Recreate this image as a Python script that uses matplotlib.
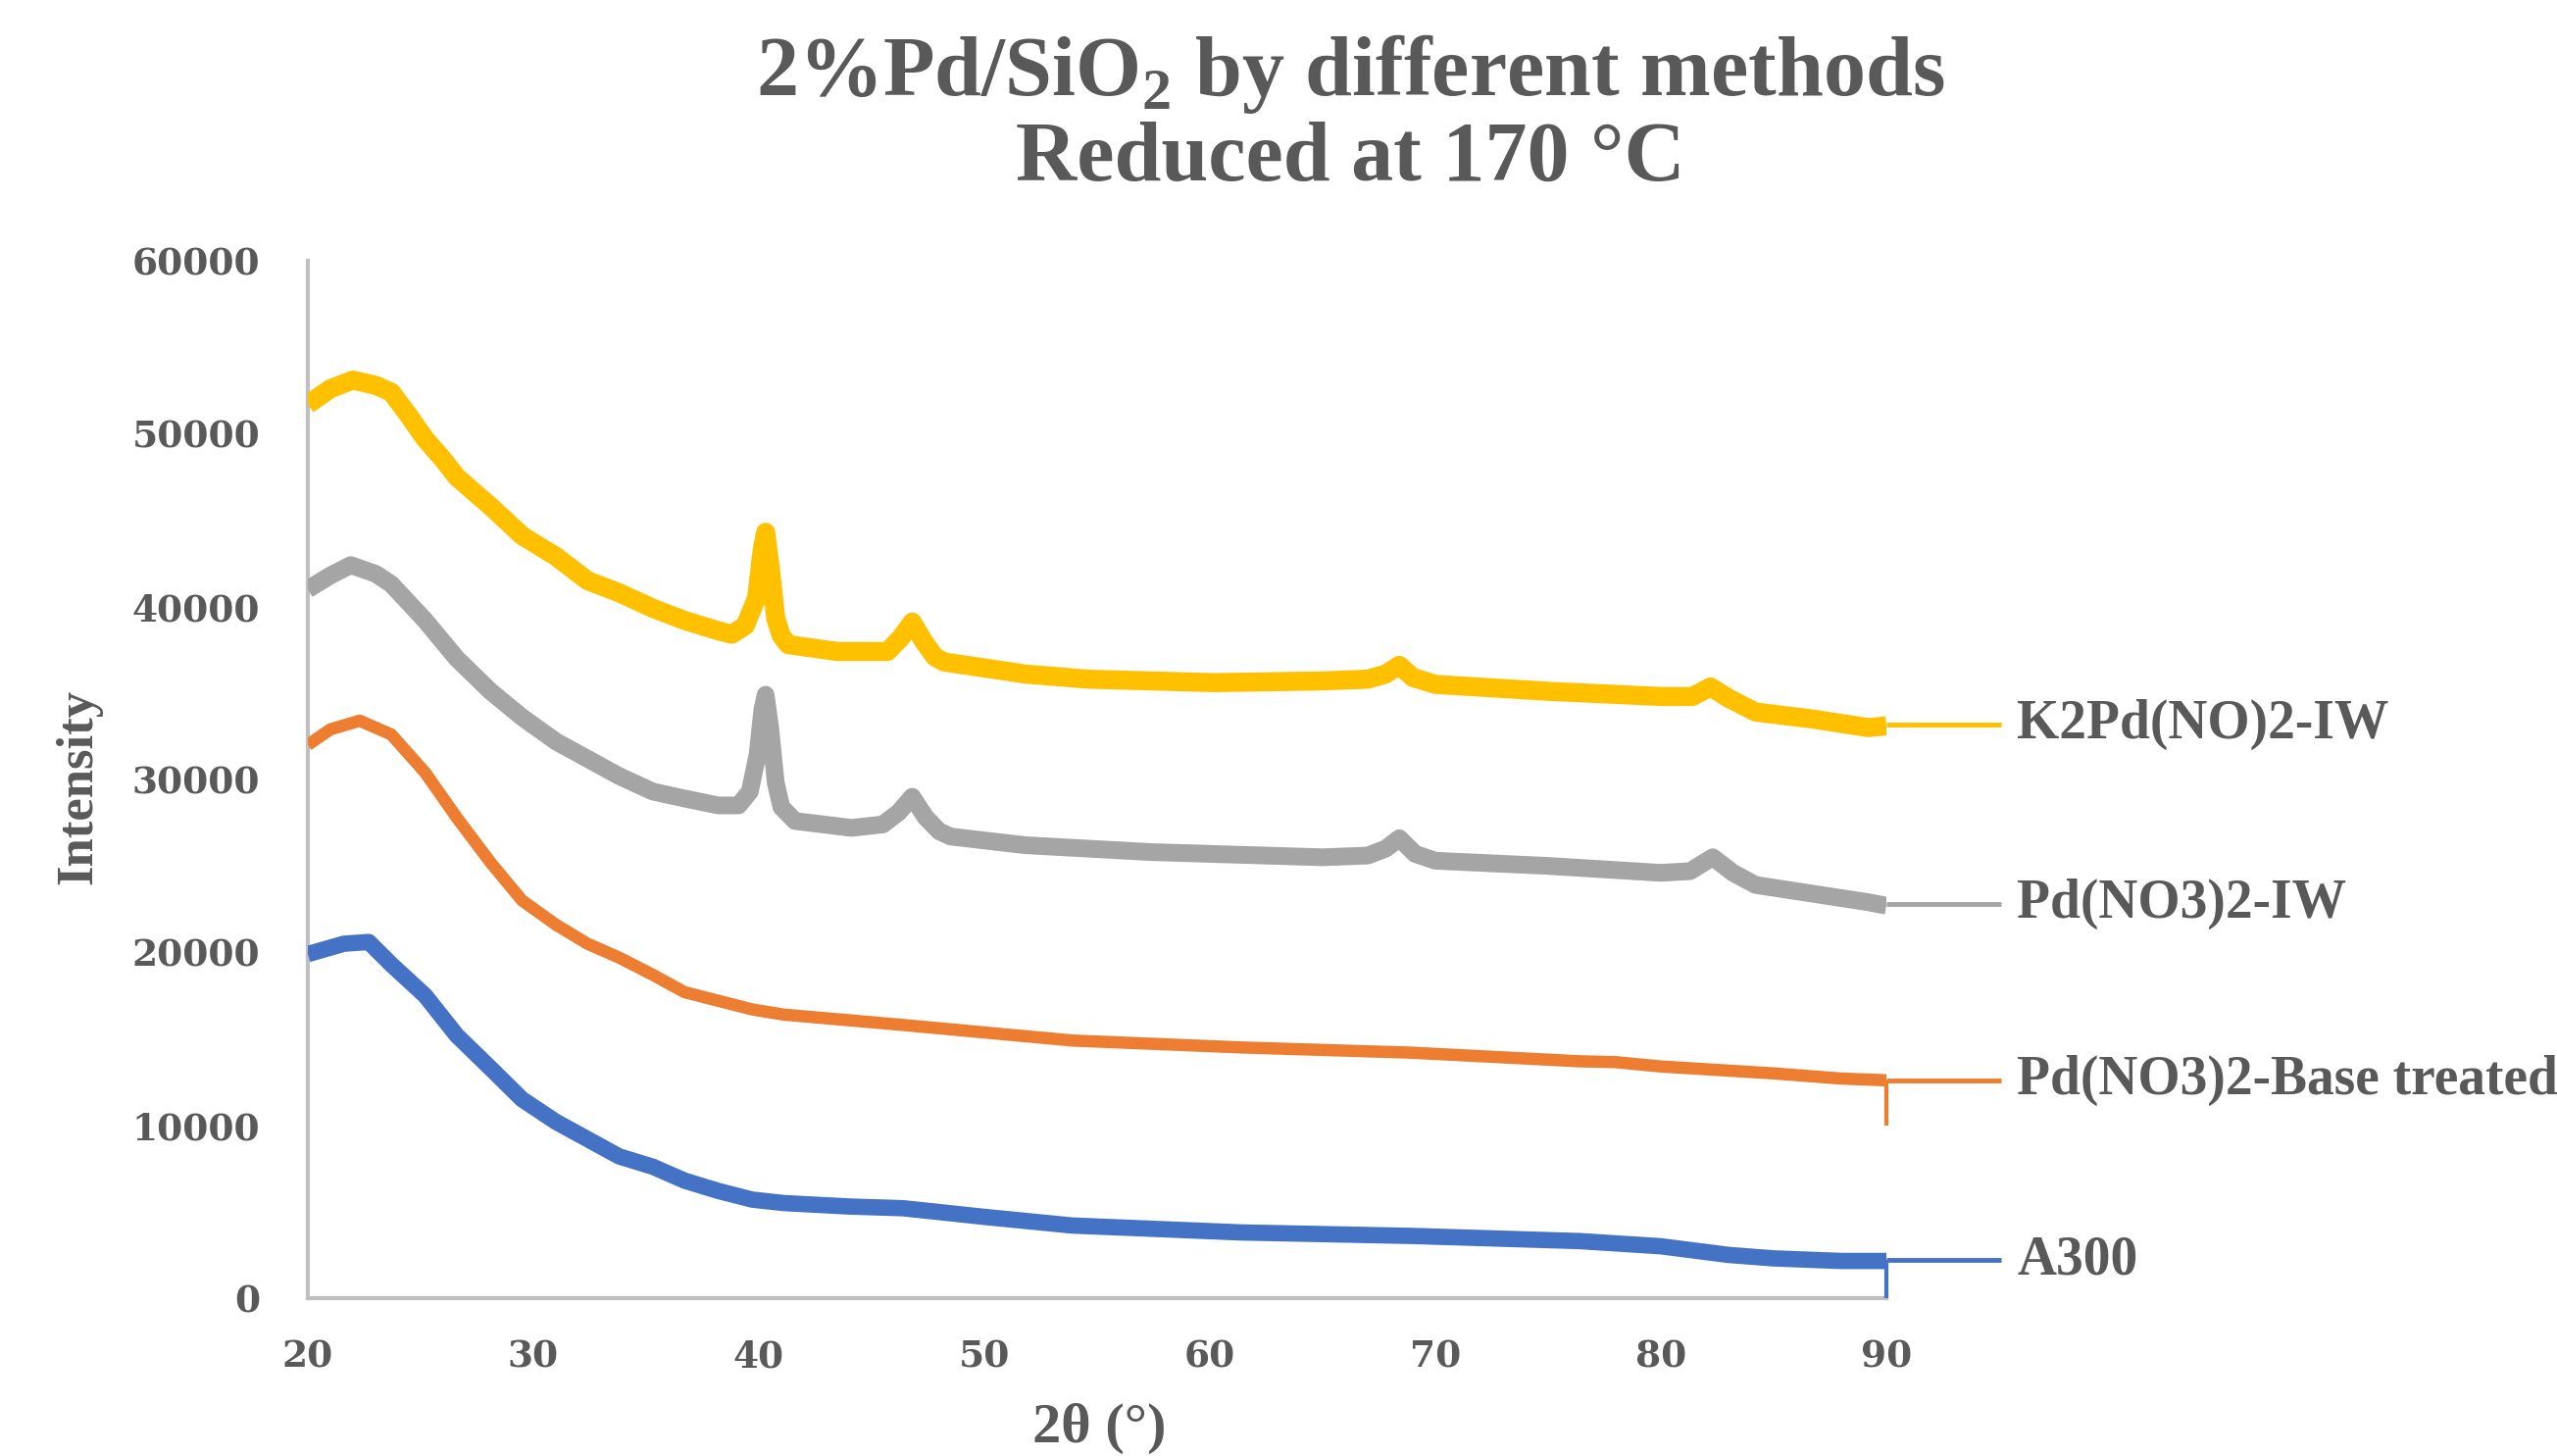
import matplotlib
matplotlib.use("Agg")
import matplotlib.pyplot as plt

# ---------------- data ----------------
series_names = ["K2Pd(NO)2-IW", "Pd(NO3)2-IW", "Pd(NO3)2-Base treated", "A300"]
series_colors = ["#FFC000", "#A5A5A5", "#ED7D31", "#4472C4"]

k2pd_x = [20, 21, 22, 23, 23.7, 24.5, 25.2, 26, 26.6, 27.3, 28.1, 29.5, 31, 32.4, 33.8, 35.3, 36.7, 38.2, 38.8,
          39.4, 39.9, 40.15, 40.3, 40.5, 40.75, 41.0, 41.3, 43.5, 45.7, 46.3, 46.8, 47.3, 47.8, 48.2, 51.8, 54.6,
          60.2, 65, 67, 67.8, 68.4, 69.0, 70, 75, 80, 81.4, 82.2, 83, 84.2, 86.7, 89.2, 90]
k2pd_y = [51700, 52600, 53100, 52800, 52400, 51000, 49700, 48500, 47500, 46700, 45800, 44100, 42900, 41500, 40800, 39900, 39200, 38600, 38400,
          38900, 40500, 43300, 44300, 42300, 39300, 38300, 37800, 37400, 37400, 38200, 39100, 38000, 37100, 36800, 36100, 35800,
          35600, 35700, 35800, 36100, 36600, 35900, 35500, 35100, 34800, 34800, 35350, 34700, 33900, 33500, 33000, 33100]

pdiw_x = [20, 21, 21.9, 23, 23.7, 25.2, 26.6, 28.1, 29.5, 31, 32.4, 33.8, 35.3, 36.7, 38.2, 39.1,
          39.6, 39.95, 40.15, 40.3, 40.5, 40.75, 41.0, 41.6, 44.1, 45.5, 46.2, 46.8, 47.4, 48, 48.5, 51.8, 57.4,
          65, 67, 67.8, 68.4, 69.1, 70, 75, 80, 81.3, 82.3, 83.2, 84.2, 86.7, 89.2, 90]
pdiw_y = [41000, 41800, 42400, 41900, 41300, 39200, 37000, 35100, 33600, 32200, 31200, 30200, 29300, 28900, 28500, 28500,
          29300, 31500, 34000, 34900, 33000, 29800, 28400, 27600, 27200, 27400, 28100, 29000, 27800, 27000, 26700, 26200, 25800,
          25500, 25600, 26000, 26600, 25700, 25300, 25000, 24600, 24700, 25500, 24600, 23900, 23400, 22900, 22700]

base_x = [20, 21, 22.3, 23.7, 25.2, 26.6, 28.1, 29.5, 31, 32.4, 33.8, 35.3, 36.7, 38.2, 39.7, 41.1,
          46.4, 53.9, 61.4, 68.9, 76.4, 78, 80, 85, 88, 90]
base_y = [32000, 32900, 33400, 32600, 30400, 27800, 25200, 23000, 21600, 20500, 19700, 18700, 17700, 17200, 16700, 16400,
          15800, 14900, 14500, 14200, 13700, 13650, 13400, 13000, 12700, 12600]

a300_x = [20, 21.6, 22.7, 23.7, 25.2, 26.6, 28.1, 29.5, 31, 32.4, 33.8, 35.3, 36.7, 38.2, 39.7, 41.1,
          44, 46.4, 50, 53.9, 61.4, 68.9, 76.4, 80, 83, 85, 88, 90]
a300_y = [19900, 20500, 20600, 19300, 17500, 15200, 13300, 11500, 10200, 9200, 8200, 7600, 6800, 6200, 5700, 5500,
          5300, 5200, 4700, 4200, 3800, 3600, 3300, 3000, 2500, 2300, 2150, 2150]

series_x = [k2pd_x, pdiw_x, base_x, a300_x]
series_y = [k2pd_y, pdiw_y, base_y, a300_y]
label_values = [33200, 22800, 12600, 2200]
drop_to = [None, None, 10000, 0]

x_ticks = [20, 30, 40, 50, 60, 70, 80, 90]
y_ticks = [0, 10000, 20000, 30000, 40000, 50000, 60000]

# ---------------- figure ----------------
W, H, DPI = 2608, 1485, 100
fig = plt.figure(figsize=(W / DPI, H / DPI), dpi=DPI)
fig.patch.set_facecolor("white")

L, R, B, T = 314, 1924, 1324, 266
ax = fig.add_axes([L / W, (H - B) / H, (R - L) / W, (B - T) / H])

text_col = "#595959"
serif_bold = dict(family="Liberation Serif", weight="bold", color=text_col)

widths = [14, 13, 9, 12]
for xs, ys, c, lw in zip(series_x, series_y, series_colors, widths):
    ax.plot(xs, ys, color=c, lw=lw, solid_joinstyle="round", solid_capstyle="butt", zorder=3)

# leader lines and data labels at the end of each series
for name, c, v, d in zip(series_names, series_colors, label_values, drop_to):
    ax.plot([90, 95.1], [v, v], color=c, lw=3.5, clip_on=False, zorder=4, solid_capstyle="butt")
    if d is not None:
        ax.plot([90, 90], [v, d], color=c, lw=3.0, clip_on=False, zorder=4, solid_capstyle="butt")
    ax.text(95.8, v, name, fontsize=40, va="center", ha="left", clip_on=False, **serif_bold)

ax.set_xlim(20, 90)
ax.set_ylim(0, 60000)
ax.set_xticks(x_ticks)
ax.set_yticks(y_ticks)
ax.set_xticklabels([str(t) for t in x_ticks])
ax.set_yticklabels([str(t) for t in y_ticks])
for lab in ax.get_xticklabels() + ax.get_yticklabels():
    lab.set_fontfamily("DejaVu Serif")
    lab.set_fontweight("bold")
    lab.set_fontsize(27)
    lab.set_color(text_col)
ax.tick_params(axis="both", length=0)
ax.tick_params(axis="y", pad=35)
ax.tick_params(axis="x", pad=30)

for s in ["top", "right"]:
    ax.spines[s].set_visible(False)
for s in ["left", "bottom"]:
    ax.spines[s].set_color("#BFBFBF")
    ax.spines[s].set_linewidth(3)
ax.set_facecolor("none")

# titles / axis labels
plt.rcParams["mathtext.fontset"] = "custom"
plt.rcParams["mathtext.bf"] = "Liberation Serif:bold"
plt.rcParams["mathtext.rm"] = "Liberation Serif:bold"
fig.text(1377 / W, 1 - 75 / H, r"2%Pd/SiO$_\mathbf{2}$ by different methods", ha="center", va="center",
         fontsize=62, **serif_bold)
fig.text(1377 / W, 1 - 163 / H, "Reduced at 170 \u00b0C", ha="center", va="center",
         fontsize=62, **serif_bold)
fig.text(80 / W, 1 - 802 / H, "Intensity", rotation=90, ha="center", va="center", fontsize=38, **serif_bold)
fig.text(1121 / W, 1 - 1457 / H, "2\u03b8 (\u00b0)", ha="center", va="center", fontsize=42, **serif_bold)

fig.savefig("out.png", dpi=DPI, facecolor="white")
